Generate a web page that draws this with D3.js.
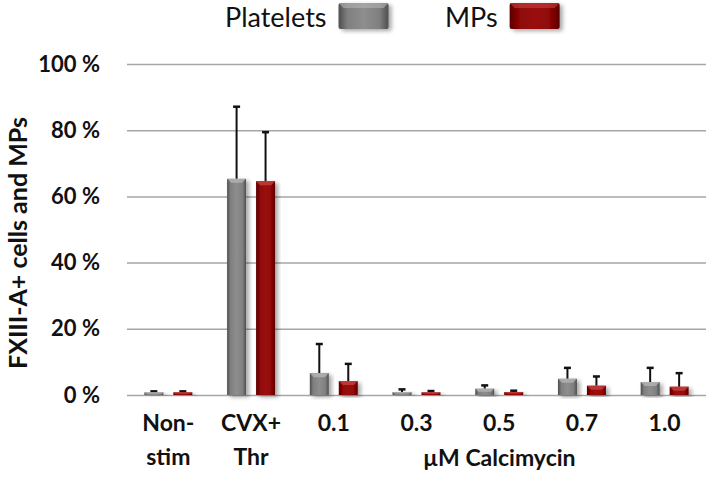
<!DOCTYPE html>
<html>
<head>
<meta charset="utf-8">
<script src="https://cdn.jsdelivr.net/npm/d3@7"></script>
<style>
  body { margin: 0; background: #fff; }
  text { font-family: Lato, "Open Sans", sans-serif; fill: #111; }
</style>
</head>
<body>
<div id="chart"></div>
<script>
// data
var categories = ["Non-stim", "CVX+Thr", "0.1", "0.3", "0.5", "0.7", "1.0"];
var catLines = [["Non-", "stim"], ["CVX+", "Thr"], ["0.1"], ["0.3"], ["0.5"], ["0.7"], ["1.0"]];
var seriesNames = ["Platelets", "MPs"];
var platelets = [0.8, 65.3, 6.6, 0.9, 1.9, 4.9, 3.9];
var plateletsErr = [0.3, 21.8, 8.8, 0.8, 1.0, 3.3, 4.3];
var mps = [0.8, 64.6, 4.2, 0.8, 0.9, 2.8, 2.5];
var mpsErr = [0.3, 14.8, 5.2, 0.4, 0.4, 2.8, 4.1];
var yTicks = [0, 20, 40, 60, 80, 100];
var xTitle = "\u00b5M Calcimycin";
var yTitle = "FXIII-A+ cells and MPs";

var width = 709, height = 478;
var plotLeft = 127, plotRight = 706, plotTop = 64, plotBottom = 395;
var labelSize = "23px";

var svg = d3.select("#chart").append("svg")
    .attr("width", width)
    .attr("height", height);

var defs = svg.append("defs");

// bar gradients (bevelled look)
function barGradient(id, edge, mid, light) {
    var g = defs.append("linearGradient").attr("id", id)
        .attr("x1", "0%").attr("x2", "100%").attr("y1", "0%").attr("y2", "0%");
    g.append("stop").attr("offset", "0%").attr("stop-color", edge);
    g.append("stop").attr("offset", "18%").attr("stop-color", mid);
    g.append("stop").attr("offset", "50%").attr("stop-color", light);
    g.append("stop").attr("offset", "82%").attr("stop-color", mid);
    g.append("stop").attr("offset", "100%").attr("stop-color", edge);
}
barGradient("gGrey", "#4e4e4e", "#7f7f7f", "#8e8e8e");
barGradient("gRed", "#5a0000", "#8c0606", "#9c0f0f");

var shadow = defs.append("filter").attr("id", "shadow")
    .attr("x", "-30%").attr("y", "-10%").attr("width", "160%").attr("height", "130%");
shadow.append("feDropShadow").attr("dx", 3).attr("dy", 2)
    .attr("stdDeviation", 2).attr("flood-color", "#000").attr("flood-opacity", 0.35);

var fills = ["url(#gGrey)", "url(#gRed)"];
var highlights = ["#b4b4b4", "#c8403f"];

var x0 = d3.scaleBand().domain(categories).range([plotLeft, plotRight]).padding(0);
var x1 = d3.scaleBand().domain(seriesNames).range([0, x0.bandwidth()])
    .paddingInner(0.345).paddingOuter(0.6);
var y = d3.scaleLinear().domain([0, 100]).range([plotBottom, plotTop]);

// gridlines + y tick labels
var yAxis = svg.append("g")
    .attr("transform", "translate(" + plotLeft + ",0)")
    .call(d3.axisLeft(y).tickValues(yTicks).tickSize(-(plotRight - plotLeft))
        .tickFormat(function(d) { return d + " %"; }).tickPadding(27));
yAxis.select(".domain").remove();
yAxis.selectAll("line").attr("stroke", "#a6a6a6").attr("stroke-width", 1.5);
yAxis.selectAll("text")
    .style("font-family", "Lato, sans-serif")
    .style("font-weight", "bold")
    .style("font-size", "22px")
    .attr("fill", "#111");

// y title
svg.append("text")
    .attr("transform", "translate(27,243) rotate(-90)")
    .attr("text-anchor", "middle")
    .style("font-weight", "bold")
    .style("font-size", "25px")
    .text(yTitle);

var series = [
    { name: seriesNames[0], values: platelets, err: plateletsErr },
    { name: seriesNames[1], values: mps, err: mpsErr }
];

var groups = svg.append("g").selectAll("g")
    .data(categories)
    .join("g")
    .attr("transform", function(d) { return "translate(" + x0(d) + ",0)"; });

groups.each(function(cat, i) {
    var g = d3.select(this);
    series.forEach(function(s, si) {
        var bx = x1(s.name), bw = x1.bandwidth();
        var v = s.values[i], e = s.err[i];
        var yt = y(v);
        var h = plotBottom - yt;
        // error bar (upper only)
        g.append("line")
            .attr("x1", bx + bw / 2).attr("x2", bx + bw / 2)
            .attr("y1", yt).attr("y2", y(v + e))
            .attr("stroke", "#111").attr("stroke-width", 2);
        g.append("line")
            .attr("x1", bx + bw / 2 - 3.5).attr("x2", bx + bw / 2 + 3.5)
            .attr("y1", y(v + e)).attr("y2", y(v + e))
            .attr("stroke", "#111").attr("stroke-width", 2.5);
        // bar
        g.append("rect")
            .attr("x", bx).attr("y", yt)
            .attr("width", bw).attr("height", h)
            .attr("fill", fills[si])
            .attr("filter", "url(#shadow)");
        // top bevel
        var bev = Math.min(4, h / 2);
        g.append("path")
            .attr("d", "M" + bx + "," + yt + "L" + (bx + bw) + "," + yt +
                "L" + (bx + bw - bev) + "," + (yt + bev) + "L" + (bx + bev) + "," + (yt + bev) + "Z")
            .attr("fill", highlights[si]).attr("opacity", 0.8);
    });
});

// x labels
groups.each(function(cat, i) {
    var t = d3.select(this).append("text")
        .attr("text-anchor", "middle")
        .style("font-weight", "bold")
        .style("font-size", labelSize);
    catLines[i].forEach(function(line, li) {
        t.append("tspan")
            .attr("x", x0.bandwidth() / 2)
            .attr("y", 431 + li * 34)
            .text(line);
    });
});

// x title centered over the calcimycin groups
var cx = (x0("0.1") + x0("1.0") + x0.bandwidth()) / 2;
svg.append("text")
    .attr("x", cx).attr("y", 466)
    .attr("text-anchor", "middle")
    .style("font-weight", "bold")
    .style("font-size", labelSize)
    .text(xTitle);

// legend
var legendX = [225, 445];
seriesNames.forEach(function(name, i) {
    var tx = svg.append("text")
        .attr("x", legendX[i]).attr("y", 27)
        .style("font-size", "27px")
        .text(name);
    var tw = tx.node().getComputedTextLength();
    var sx = legendX[i] + tw + 12;
    svg.append("rect")
        .attr("x", sx).attr("y", 3)
        .attr("width", 50).attr("height", 26)
        .attr("rx", 2)
        .attr("fill", fills[i])
        .attr("filter", "url(#shadow)");
    svg.append("path")
        .attr("d", "M" + sx + ",3L" + (sx + 50) + ",3L" + (sx + 45) + ",8L" + (sx + 5) + ",8Z")
        .attr("fill", highlights[i]).attr("opacity", 0.6);
});
</script>
</body>
</html>
